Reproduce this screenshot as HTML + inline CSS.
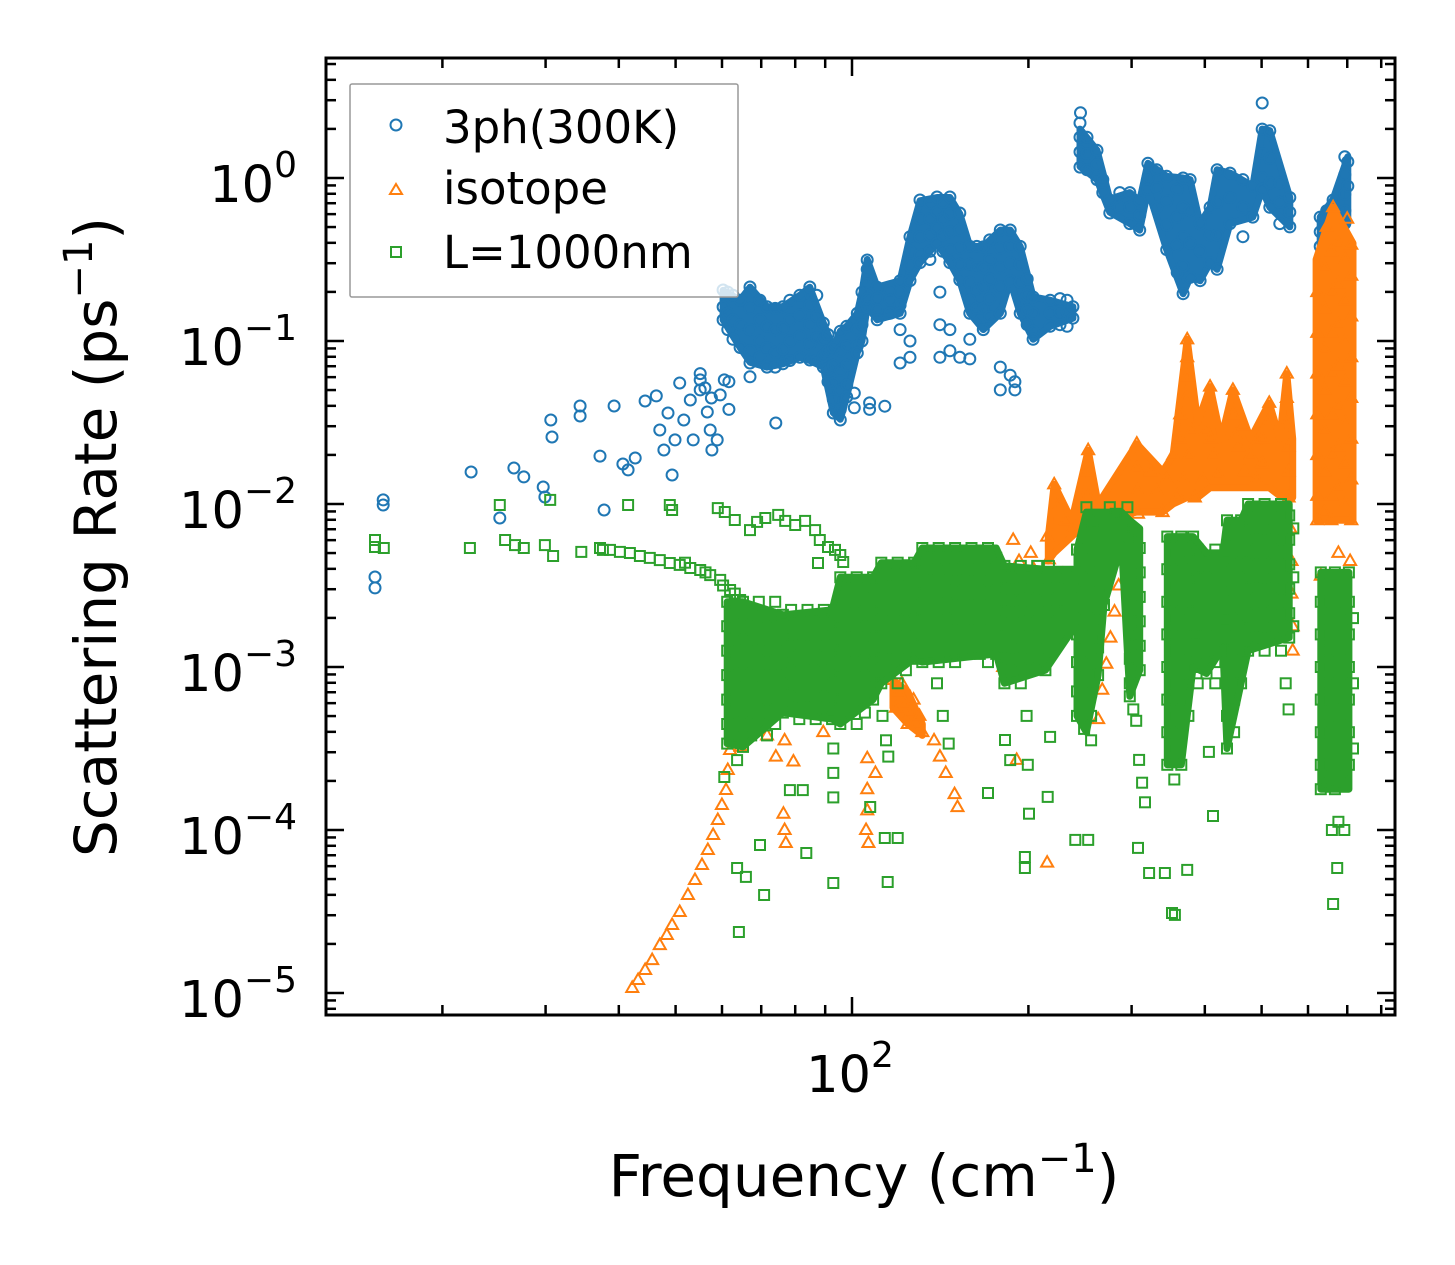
<!DOCTYPE html>
<html><head><meta charset="utf-8"><style>
html,body{margin:0;padding:0;background:#fff;}
svg{display:block;font-family:"DejaVu Sans","Liberation Sans",sans-serif;}
</style></head><body>
<svg id="chart" width="1455" height="1265" viewBox="0 0 1455 1265" xmlns="http://www.w3.org/2000/svg">
<rect x="0" y="0" width="1455" height="1265" fill="#fff"/>
<g id="marks"></g>
<g id="ticks"></g>
<rect x="326" y="58" width="1069" height="957" fill="none" stroke="#000" stroke-width="3"/>
<g id="ticklabels"></g>
<text x="864" y="1196" font-size="58" text-anchor="middle">Frequency (cm<tspan font-size="40" dy="-24">−1</tspan><tspan dy="24">)</tspan></text>
<text transform="translate(116,537) rotate(-90)" font-size="58" text-anchor="middle">Scattering Rate (ps<tspan font-size="40" dy="-24">−1</tspan><tspan dy="24">)</tspan></text>
<g>
<rect x="350" y="84" width="388" height="213" fill="#fff" fill-opacity="0.8" stroke="#999" stroke-width="1.5" rx="2"/>
<circle cx="396" cy="125" r="5.5" fill="none" stroke="#1f77b4" stroke-width="2"/>
<text x="443" y="143" font-size="45">3ph(300K)</text>
<polygon points="396,184 402,194 390,194" fill="none" stroke="#ff7f0e" stroke-width="2"/>
<text x="443" y="204" font-size="45">isotope</text>
<rect x="391" y="247" width="10" height="10" fill="none" stroke="#2ca02c" stroke-width="2"/>
<text x="443" y="268" font-size="45">L=1000nm</text>
</g>
</svg>
<script>
// data in log10 units: [log10(frequency cm^-1), log10(rate ps^-1)]
const yTickExps = ["0","−1","−2","−3","−4","−5"];
const yTickVals = [0,-1,-2,-3,-4,-5];
const xTickExps = ["2"];
const xTickVals = [2];

// dense-cloud envelopes: [log10 f, upper log10 rate, lower log10 rate]
const env3phA = [[1.780,-0.69,-0.87],[1.809,-0.75,-1.04],[1.826,-0.67,-1.13],[1.855,-0.79,-1.16],[1.882,-0.79,-1.14],[1.911,-0.72,-1.10],[1.928,-0.67,-1.12],[1.951,-0.89,-1.16],[1.968,-1.04,-1.44],[1.980,-0.94,-1.48],[1.991,-0.91,-1.34],[2.009,-0.83,-1.07],[2.017,-0.70,-1.0],[2.026,-0.50,-0.79],[2.043,-0.67,-0.87],[2.082,-0.63,-0.83],[2.099,-0.36,-0.63],[2.116,-0.14,-0.52],[2.145,-0.12,-0.40],[2.167,-0.12,-0.52],[2.184,-0.22,-0.63],[2.201,-0.42,-0.83],[2.224,-0.42,-0.93],[2.253,-0.32,-0.83],[2.270,-0.32,-0.63],[2.287,-0.42,-0.83],[2.309,-0.73,-0.99],[2.338,-0.75,-0.91],[2.377,-0.79,-0.86]];
const env3phB = [[2.389,0.30,0.07],[2.418,0.17,-0.01],[2.440,-0.13,-0.21],[2.474,-0.09,-0.28],[2.491,-0.14,-0.32],[2.505,0.09,-0.07],[2.537,0.01,-0.44],[2.565,0.0,-0.71],[2.577,-0.01,-0.61],[2.594,-0.28,-0.63],[2.611,-0.18,-0.52],[2.623,0.05,-0.56],[2.645,0.03,-0.28],[2.684,-0.05,-0.24],[2.700,0.30,-0.07],[2.713,0.29,-0.18],[2.747,-0.12,-0.30]];
const env3phC = [[2.799,-0.24,-0.42],[2.821,-0.13,-0.38],[2.846,0.13,-0.28]];
const envIsoA = [[2.335,-2.2,-2.35],[2.345,-1.88,-2.3],[2.375,-2.1,-2.2],[2.403,-1.67,-2.1],[2.42,-2.0,-2.1],[2.486,-1.63,-2.05],[2.53,-1.8,-2.05],[2.548,-1.7,-2.0],[2.572,-0.99,-1.96],[2.59,-1.5,-1.96],[2.611,-1.28,-1.9],[2.63,-1.6,-1.9],[2.65,-1.30,-1.9],[2.68,-1.6,-1.9],[2.712,-1.38,-1.9],[2.73,-1.6,-1.95],[2.742,-1.2,-1.96],[2.752,-1.6,-1.96]];
const envIsoB = [[2.792,-0.5,-2.1],[2.821,-0.18,-2.1],[2.855,-0.4,-2.1]];
const envIsoC = [[2.070,-3.08,-3.25],[2.095,-3.15,-3.35],[2.120,-3.35,-3.42]];
const envBndA = [[1.787,-2.60,-3.47],[1.814,-2.60,-3.49],[1.882,-2.68,-3.28],[1.966,-2.65,-3.32],[1.980,-2.45,-3.35],[2.036,-2.45,-3.20],[2.050,-2.36,-3.10],[2.106,-2.36,-2.95],[2.120,-2.27,-2.97],[2.246,-2.27,-2.92],[2.260,-2.38,-3.10],[2.330,-2.40,-3.02],[2.377,-2.40,-2.77]];
const envBndB = [[2.384,-2.28,-3.30],[2.400,-2.05,-3.40],[2.420,-2.05,-3.05],[2.430,-2.05,-2.62],[2.460,-2.05,-2.25],[2.474,-2.10,-3.18],[2.491,-2.15,-3.02]];
const envBndC = [[2.538,-2.20,-3.60],[2.562,-2.20,-3.60],[2.582,-2.20,-3.0],[2.605,-2.3,-3.04],[2.633,-2.3,-2.88],[2.640,-2.1,-3.50],[2.664,-2.1,-3.10],[2.676,-2.0,-2.90],[2.746,-2.0,-2.82]];
const envBndD = [[2.800,-2.42,-3.75],[2.848,-2.42,-3.75]];

const log3ph = [
[1.186,-2.515],[1.186,-2.448],[1.200,-1.975],[1.200,-2.006],[1.350,-1.804],[1.399,-2.086],[1.423,-1.779],[1.440,-1.834],[1.473,-1.896],[1.476,-1.957],[1.486,-1.485],[1.488,-1.589],[1.536,-1.399],[1.536,-1.460],[1.570,-1.706],[1.577,-2.037],[1.594,-1.399],[1.609,-1.755],[1.618,-1.791],[1.630,-1.718],[1.647,-1.368],[1.666,-1.337],[1.672,-1.546],[1.679,-1.669],[1.686,-1.442],[1.693,-1.822],[1.698,-1.607],[1.706,-1.258],[1.713,-1.485],[1.724,-1.362],[1.729,-1.607],[1.741,-1.239],[1.749,-1.288],[1.753,-1.436],[1.758,-1.546],[1.761,-1.669],[1.770,-1.607],[1.775,-1.331],[1.782,-1.239],
[1.780,-0.687],[1.780,-0.791],[1.780,-0.871],[1.788,-0.70],[1.788,-0.83],[1.788,-0.93],[1.797,-0.72],[1.797,-0.87],[1.797,-0.99],[1.809,-0.75],[1.809,-0.90],[1.809,-1.04],
[1.826,-0.669],[1.826,-0.80],[1.826,-0.93],[1.826,-1.06],[1.826,-1.135],[1.843,-0.75],[1.843,-0.87],[1.843,-1.0],[1.843,-1.10],[1.855,-0.79],[1.855,-0.91],[1.855,-1.04],[1.855,-1.16],
[1.869,-0.80],[1.869,-0.93],[1.869,-1.07],[1.869,-1.16],[1.882,-0.79],[1.882,-0.92],[1.882,-1.05],[1.882,-1.14],[1.894,-0.75],[1.894,-0.87],[1.894,-1.0],[1.894,-1.12],
[1.911,-0.72],[1.911,-0.84],[1.911,-0.97],[1.911,-1.10],[1.928,-0.669],[1.928,-0.78],[1.928,-0.90],[1.928,-1.02],[1.928,-1.117],[1.940,-0.72],[1.940,-0.85],[1.940,-0.98],[1.940,-1.12],
[1.951,-0.89],[1.951,-0.99],[1.951,-1.09],[1.951,-1.16],[1.959,-0.96],[1.959,-1.06],[1.959,-1.17],[1.959,-1.25],[1.968,-1.04],[1.968,-1.15],[1.968,-1.26],[1.968,-1.36],[1.968,-1.442],
[1.980,-0.94],[1.980,-1.06],[1.980,-1.18],[1.980,-1.30],[1.980,-1.42],[1.980,-1.485],[1.991,-0.91],[1.991,-1.03],[1.991,-1.15],[1.991,-1.27],[1.991,-1.344],
[2.009,-0.83],[2.009,-0.93],[2.009,-1.03],[2.009,-1.074],[2.017,-0.70],[2.017,-0.80],[2.017,-0.90],[2.017,-1.0],[2.026,-0.503],[2.026,-0.56],[2.026,-0.65],[2.026,-0.74],[2.026,-0.79],
[2.043,-0.67],[2.043,-0.74],[2.043,-0.81],[2.043,-0.87],[2.065,-0.69],[2.065,-0.75],[2.065,-0.83],[2.082,-0.63],[2.082,-0.70],[2.082,-0.78],[2.082,-0.83],
[2.099,-0.36],[2.099,-0.45],[2.099,-0.54],[2.099,-0.63],[2.116,-0.135],[2.116,-0.25],[2.116,-0.36],[2.116,-0.47],[2.116,-0.52],[2.133,-0.153],[2.133,-0.25],[2.133,-0.35],[2.133,-0.45],[2.133,-0.50],
[2.145,-0.117],[2.145,-0.21],[2.145,-0.31],[2.145,-0.40],[2.155,-0.15],[2.155,-0.25],[2.155,-0.35],[2.155,-0.45],[2.167,-0.117],[2.167,-0.22],[2.167,-0.33],[2.167,-0.44],[2.167,-0.52],
[2.184,-0.215],[2.184,-0.32],[2.184,-0.43],[2.184,-0.53],[2.184,-0.626],[2.201,-0.42],[2.201,-0.53],[2.201,-0.64],[2.201,-0.75],[2.201,-0.83],[2.213,-0.42],[2.213,-0.55],[2.213,-0.68],[2.213,-0.80],
[2.224,-0.423],[2.224,-0.55],[2.224,-0.67],[2.224,-0.80],[2.224,-0.93],[2.235,-0.38],[2.235,-0.50],[2.235,-0.62],[2.235,-0.74],[2.235,-0.85],[2.253,-0.319],[2.253,-0.43],[2.253,-0.55],[2.253,-0.67],[2.253,-0.83],
[2.270,-0.319],[2.270,-0.42],[2.270,-0.52],[2.270,-0.63],[2.287,-0.42],[2.287,-0.53],[2.287,-0.64],[2.287,-0.75],[2.287,-0.83],[2.299,-0.62],[2.299,-0.72],[2.299,-0.81],[2.299,-0.90],[2.309,-0.73],[2.309,-0.83],[2.309,-0.94],[2.309,-0.99],
[2.338,-0.75],[2.338,-0.83],[2.338,-0.91],[2.355,-0.74],[2.355,-0.82],[2.355,-0.90],[2.367,-0.75],[2.367,-0.82],[2.367,-0.91],[2.377,-0.79],[2.377,-0.86],
[2.082,-0.93],[2.082,-1.135],[2.099,-1.0],[2.099,-1.10],[2.150,-0.70],[2.150,-0.90],[2.150,-1.10],[2.167,-0.93],[2.167,-1.06],[2.184,-1.10],[2.201,-0.99],[2.201,-1.11],[2.253,-1.16],[2.253,-1.30],[2.270,-1.21],[2.278,-1.25],[2.278,-1.30],[2.004,-1.32],[2.004,-1.41],[2.030,-1.42],[2.030,-1.38],[2.056,-1.40],[1.741,-1.20],[1.741,-1.30],[1.760,-1.35],[1.790,-1.25],[1.790,-1.42],[1.870,-1.503],[1.826,-1.22],
[2.389,0.337],[2.389,0.25],[2.389,0.16],[2.389,0.067],[2.390,0.40],[2.401,0.25],[2.401,0.15],[2.401,0.05],[2.418,0.17],[2.418,0.08],[2.418,-0.01],[2.428,-0.01],[2.428,-0.09],[2.440,-0.135],[2.440,-0.215],
[2.457,-0.09],[2.457,-0.18],[2.474,-0.09],[2.474,-0.18],[2.474,-0.28],[2.491,-0.14],[2.491,-0.23],[2.491,-0.32],[2.505,0.09],[2.505,0.0],[2.505,-0.07],[2.520,0.05],[2.520,-0.06],[2.520,-0.18],
[2.537,0.01],[2.537,-0.14],[2.537,-0.29],[2.537,-0.44],[2.555,-0.07],[2.555,-0.24],[2.555,-0.41],[2.555,-0.58],[2.565,0.0],[2.565,-0.18],[2.565,-0.36],[2.565,-0.54],[2.565,-0.71],[2.577,-0.01],[2.577,-0.20],[2.577,-0.40],[2.577,-0.61],
[2.594,-0.28],[2.594,-0.45],[2.594,-0.63],[2.611,-0.18],[2.611,-0.35],[2.611,-0.52],[2.623,0.05],[2.623,-0.15],[2.623,-0.35],[2.623,-0.56],[2.645,0.03],[2.645,-0.12],[2.645,-0.28],[2.667,-0.01],[2.667,-0.18],[2.667,-0.36],[2.684,-0.05],[2.684,-0.24],
[2.700,0.46],[2.700,0.30],[2.700,0.15],[2.700,0.0],[2.700,-0.07],[2.713,0.29],[2.713,0.12],[2.713,-0.03],[2.713,-0.18],[2.730,-0.03],[2.730,-0.15],[2.730,-0.28],[2.747,-0.12],[2.747,-0.21],[2.747,-0.30],
[2.799,-0.24],[2.799,-0.33],[2.799,-0.42],[2.810,-0.20],[2.810,-0.36],[2.821,-0.135],[2.821,-0.25],[2.821,-0.38],[2.841,0.13],[2.841,0.02],[2.841,-0.10],[2.841,-0.20],[2.841,-0.28],[2.846,0.10],[2.846,-0.05]
];

const logIsotope = [
[1.625,-4.969],[1.635,-4.920],[1.647,-4.859],[1.659,-4.798],[1.672,-4.706],[1.684,-4.644],[1.693,-4.583],[1.706,-4.503],[1.720,-4.399],[1.732,-4.307],[1.744,-4.215],[1.754,-4.123],[1.763,-4.031],[1.771,-3.939],[1.778,-3.847],[1.785,-3.755],[1.788,-3.632],[1.792,-3.509],
[1.795,-3.2],[1.800,-3.35],[1.810,-3.49],[1.820,-3.3],[1.855,-3.42],[1.870,-3.55],[1.885,-3.45],[1.900,-3.58],[1.883,-3.90],[1.885,-4.0],[1.887,-4.08],[1.951,-3.25],[1.951,-3.40],
[2.026,-3.56],[2.040,-3.65],[2.026,-3.75],[2.026,-3.88],[2.024,-4.0],[2.028,-4.08],
[2.070,-3.08],[2.080,-3.15],[2.090,-3.22],[2.100,-3.28],[2.110,-3.34],[2.120,-3.40],[2.075,-3.25],[2.095,-3.35],[2.085,-3.10],[2.105,-3.20],[2.115,-3.30],
[2.140,-3.45],[2.150,-3.55],[2.160,-3.65],[2.175,-3.78],[2.180,-3.86],[2.240,-2.78],[2.250,-2.90],[2.258,-3.0],
[2.275,-2.22],[2.285,-2.35],[2.295,-2.47],[2.305,-2.30],[2.310,-2.40],[2.333,-2.20],[2.336,-2.34],[2.281,-3.57],[2.333,-4.20],
[1.85,-3.1],[1.95,-3.1],[2.0,-3.0],[2.2,-2.7],[2.22,-2.85],[1.90,-3.2],
[2.345,-1.88],[2.355,-2.00],[2.365,-2.10],[2.375,-2.16],[2.360,-2.43],
[2.403,-1.67],[2.403,-1.80],[2.403,-1.95],[2.405,-2.10],[2.405,-2.30],
[2.462,-2.34],[2.455,-2.50],[2.448,-2.66],[2.441,-2.82],[2.434,-2.98],[2.427,-3.14],[2.420,-3.32],
[2.486,-1.63],[2.486,-1.78],[2.487,-1.92],[2.488,-2.06],[2.509,-1.80],[2.520,-1.92],[2.530,-2.05],[2.537,-1.85],
[2.572,-0.99],[2.572,-1.10],[2.572,-1.22],[2.570,-1.35],[2.560,-1.45],[2.580,-1.55],[2.548,-1.70],[2.565,-1.85],[2.585,-1.96],[2.555,-1.95],[2.575,-1.70],[2.560,-1.60],
[2.611,-1.28],[2.611,-1.40],[2.605,-1.55],[2.618,-1.70],[2.598,-1.85],[2.625,-1.82],[2.612,-1.60],
[2.650,-1.30],[2.650,-1.45],[2.660,-1.65],[2.670,-1.80],[2.680,-1.70],[2.690,-1.62],[2.700,-1.75],[2.710,-1.50],[2.712,-1.38],[2.690,-1.85],[2.655,-1.58],[2.668,-1.52],[2.700,-1.60],
[2.742,-1.20],[2.742,-1.35],[2.742,-1.50],[2.745,-1.65],[2.745,-1.80],[2.745,-1.96],[2.748,-2.15],[2.750,-2.35],[2.750,-2.55],[2.752,-2.75],[2.752,-2.90],
[2.821,-0.18],[2.810,-0.30],[2.845,-0.25],[2.852,-0.41],[2.842,-0.50],
[2.794,-0.70],[2.794,-0.95],[2.794,-1.20],[2.794,-1.45],[2.794,-1.70],[2.794,-1.95],[2.794,-2.10],
[2.806,-0.55],[2.806,-0.80],[2.806,-1.05],[2.806,-1.30],[2.806,-1.55],[2.806,-1.80],[2.806,-2.05],
[2.818,-0.45],[2.818,-0.70],[2.818,-0.95],[2.818,-1.20],[2.818,-1.45],[2.818,-1.70],[2.818,-1.95],[2.818,-2.10],
[2.830,-0.40],[2.830,-0.65],[2.830,-0.90],[2.830,-1.15],[2.830,-1.40],[2.830,-1.65],[2.830,-1.90],
[2.842,-0.75],[2.842,-1.00],[2.842,-1.25],[2.842,-1.50],[2.842,-1.75],[2.842,-2.00],
[2.852,-0.60],[2.852,-0.85],[2.852,-1.10],[2.852,-1.35],[2.852,-1.60],[2.852,-1.85],[2.852,-2.10],
[2.80,-2.44],[2.83,-2.30],[2.85,-2.35]
];

const logBoundary = [
[1.186,-2.221],[1.186,-2.264],[1.201,-2.270],[1.348,-2.270],[1.399,-2.006],[1.408,-2.221],[1.425,-2.252],[1.440,-2.270],[1.476,-2.252],[1.485,-1.975],[1.490,-2.319],[1.538,-2.294],[1.575,-2.282],[1.618,-2.006],[1.689,-2.006],[1.693,-2.037],
[1.570,-2.270],[1.587,-2.282],[1.604,-2.294],[1.621,-2.301],[1.638,-2.319],[1.655,-2.331],[1.672,-2.344],[1.689,-2.362],[1.706,-2.374],[1.724,-2.393],[1.741,-2.405],[1.758,-2.436],[1.775,-2.466],[1.792,-2.528],[1.809,-2.589],[1.715,-2.36],[1.750,-2.42],[1.800,-2.55],[1.780,-2.50],
[1.771,-2.025],[1.783,-2.049],[1.800,-2.098],[1.826,-2.160],[1.838,-2.110],[1.852,-2.086],[1.874,-2.067],[1.886,-2.104],[1.903,-2.129],[1.920,-2.104],[1.937,-2.160],[1.945,-2.221],[1.959,-2.264],[1.971,-2.282],[1.980,-2.313],[1.985,-2.356],[1.942,-2.362],
[1.787,-2.60],[1.787,-2.75],[1.787,-2.90],[1.787,-3.05],[1.787,-3.20],[1.787,-3.35],[1.787,-3.47],
[1.800,-2.68],[1.800,-2.83],[1.800,-2.98],[1.800,-3.12],[1.800,-3.28],[1.800,-3.42],
[1.814,-2.60],[1.814,-2.75],[1.814,-2.90],[1.814,-3.05],[1.814,-3.20],[1.814,-3.35],[1.814,-3.49],
[1.828,-2.68],[1.828,-2.83],[1.828,-2.98],[1.828,-3.12],[1.828,-3.28],[1.828,-3.42],
[1.841,-2.60],[1.841,-2.75],[1.841,-2.90],[1.841,-3.05],[1.841,-3.20],[1.841,-3.35],
[1.855,-2.68],[1.855,-2.83],[1.855,-2.98],[1.855,-3.12],[1.855,-3.28],[1.855,-3.42],
[1.869,-2.60],[1.869,-2.75],[1.869,-2.90],[1.869,-3.05],[1.869,-3.20],[1.869,-3.35],
[1.882,-2.68],[1.882,-2.83],[1.882,-2.98],[1.882,-3.12],[1.882,-3.28],
[1.896,-2.65],[1.896,-2.80],[1.896,-2.95],[1.896,-3.10],[1.896,-3.25],
[1.910,-2.72],[1.910,-2.87],[1.910,-3.02],[1.910,-3.18],[1.910,-3.32],
[1.924,-2.65],[1.924,-2.80],[1.924,-2.95],[1.924,-3.10],[1.924,-3.25],
[1.938,-2.72],[1.938,-2.87],[1.938,-3.02],[1.938,-3.18],[1.938,-3.32],
[1.952,-2.65],[1.952,-2.80],[1.952,-2.95],[1.952,-3.10],[1.952,-3.25],
[1.966,-2.72],[1.966,-2.87],[1.966,-3.02],[1.966,-3.18],[1.966,-3.32],[1.968,-3.5],[1.968,-3.65],[1.968,-3.80],
[1.980,-2.45],[1.980,-2.60],[1.980,-2.75],[1.980,-2.90],[1.980,-3.05],[1.980,-3.20],[1.980,-3.35],
[1.994,-2.52],[1.994,-2.67],[1.994,-2.82],[1.994,-2.97],[1.994,-3.12],[1.994,-3.28],
[2.008,-2.45],[2.008,-2.60],[2.008,-2.75],[2.008,-2.90],[2.008,-3.05],[2.008,-3.20],[2.008,-3.35],
[2.022,-2.52],[2.022,-2.67],[2.022,-2.82],[2.022,-2.97],[2.022,-3.12],[2.022,-3.28],
[2.036,-2.45],[2.036,-2.60],[2.036,-2.75],[2.036,-2.90],[2.036,-3.05],[2.036,-3.20],
[2.050,-2.36],[2.050,-2.50],[2.050,-2.65],[2.050,-2.80],[2.050,-2.95],[2.050,-3.10],[2.052,-3.3],[2.058,-3.45],[2.062,-3.55],
[2.064,-2.43],[2.064,-2.58],[2.064,-2.72],[2.064,-2.88],[2.064,-3.02],
[2.078,-2.36],[2.078,-2.50],[2.078,-2.65],[2.078,-2.80],[2.078,-2.95],[2.078,-3.10],
[2.092,-2.43],[2.092,-2.58],[2.092,-2.72],[2.092,-2.88],[2.092,-3.02],
[2.106,-2.36],[2.106,-2.50],[2.106,-2.65],[2.106,-2.80],[2.106,-2.95],
[2.120,-2.27],[2.120,-2.40],[2.120,-2.55],[2.120,-2.70],[2.120,-2.85],[2.120,-2.97],
[2.134,-2.33],[2.134,-2.47],[2.134,-2.62],[2.134,-2.77],[2.134,-2.92],
[2.148,-2.27],[2.148,-2.40],[2.148,-2.55],[2.148,-2.70],[2.148,-2.85],[2.148,-2.97],[2.145,-3.1],[2.155,-3.3],[2.165,-3.47],
[2.162,-2.33],[2.162,-2.47],[2.162,-2.62],[2.162,-2.77],[2.162,-2.92],
[2.176,-2.27],[2.176,-2.40],[2.176,-2.55],[2.176,-2.70],[2.176,-2.85],[2.176,-2.97],
[2.190,-2.33],[2.190,-2.47],[2.190,-2.62],[2.190,-2.77],[2.190,-2.92],
[2.204,-2.27],[2.204,-2.40],[2.204,-2.55],[2.204,-2.70],[2.204,-2.85],
[2.218,-2.33],[2.218,-2.47],[2.218,-2.62],[2.218,-2.77],[2.218,-2.92],
[2.232,-2.27],[2.232,-2.40],[2.232,-2.55],[2.232,-2.70],[2.232,-2.85],[2.232,-2.97],
[2.246,-2.33],[2.246,-2.47],[2.246,-2.62],[2.246,-2.77],[2.246,-2.92],
[2.260,-2.38],[2.260,-2.52],[2.260,-2.66],[2.260,-2.80],[2.260,-2.95],[2.260,-3.10],
[2.274,-2.45],[2.274,-2.59],[2.274,-2.73],[2.274,-2.88],[2.274,-3.02],
[2.288,-2.38],[2.288,-2.52],[2.288,-2.66],[2.288,-2.80],[2.288,-2.95],[2.288,-3.10],
[2.302,-2.45],[2.302,-2.59],[2.302,-2.73],[2.302,-2.88],[2.298,-3.3],[2.300,-3.6],[2.302,-3.9],
[2.316,-2.38],[2.316,-2.52],[2.316,-2.66],[2.316,-2.80],[2.316,-2.95],
[2.330,-2.45],[2.330,-2.59],[2.330,-2.73],[2.330,-2.88],[2.330,-3.02],
[2.336,-2.38],[2.350,-2.52],[2.350,-2.66],[2.364,-2.45],[2.364,-2.60],[2.377,-2.52],[2.377,-2.77],
[2.384,-2.28],[2.384,-2.45],[2.384,-2.62],[2.384,-2.80],[2.384,-2.97],[2.384,-3.15],[2.384,-3.30],
[2.396,-2.36],[2.396,-2.53],[2.396,-2.70],[2.396,-2.88],[2.396,-3.05],[2.396,-3.22],[2.396,-3.38],
[2.408,-2.28],[2.408,-2.45],[2.408,-2.62],[2.408,-2.80],[2.408,-2.97],[2.408,-3.15],[2.408,-3.30],[2.408,-3.45],
[2.420,-2.36],[2.420,-2.53],[2.420,-2.70],[2.420,-2.88],[2.420,-3.05],
[2.430,-2.28],[2.430,-2.45],[2.430,-2.62],
[2.40,-2.02],[2.42,-2.10],[2.44,-2.02],[2.46,-2.10],[2.48,-2.16],[2.41,-2.16],[2.45,-2.06],[2.47,-2.02],
[2.474,-2.20],[2.474,-2.35],[2.474,-2.50],[2.474,-2.65],[2.474,-2.80],[2.474,-2.95],[2.474,-3.10],[2.474,-3.18],
[2.491,-2.27],[2.491,-2.42],[2.491,-2.57],[2.491,-2.72],[2.491,-2.87],[2.491,-3.02],
[2.480,-3.26],[2.485,-3.33],[2.490,-3.57],[2.495,-3.71],[2.500,-3.83],
[2.538,-2.20],[2.538,-2.40],[2.538,-2.60],[2.538,-2.80],[2.538,-3.00],[2.538,-3.20],[2.538,-3.40],[2.538,-3.60],
[2.550,-2.30],[2.550,-2.50],[2.550,-2.70],[2.550,-2.90],[2.550,-3.10],[2.550,-3.30],[2.550,-3.50],[2.550,-3.69],
[2.562,-2.20],[2.562,-2.40],[2.562,-2.60],[2.562,-2.80],[2.562,-3.00],[2.562,-3.20],[2.562,-3.40],[2.562,-3.60],
[2.574,-2.30],[2.574,-2.50],[2.574,-2.70],[2.574,-2.90],[2.574,-3.10],[2.574,-3.30],
[2.582,-2.20],[2.582,-2.40],[2.582,-2.60],[2.582,-2.80],[2.582,-3.00],
[2.590,-2.28],[2.590,-2.45],[2.590,-2.62],[2.590,-2.80],[2.590,-2.97],[2.590,-3.10],
[2.605,-2.36],[2.605,-2.53],[2.605,-2.70],[2.605,-2.88],[2.605,-3.04],
[2.620,-2.28],[2.620,-2.45],[2.620,-2.62],[2.620,-2.80],[2.620,-2.97],[2.620,-3.10],
[2.633,-2.36],[2.633,-2.53],[2.633,-2.70],[2.633,-2.88],
[2.640,-2.10],[2.640,-2.30],[2.640,-2.50],[2.640,-2.70],[2.640,-2.90],[2.640,-3.10],[2.640,-3.30],[2.640,-3.50],
[2.652,-2.20],[2.652,-2.40],[2.652,-2.60],[2.652,-2.80],[2.652,-3.00],[2.652,-3.20],[2.652,-3.40],
[2.664,-2.10],[2.664,-2.30],[2.664,-2.50],[2.664,-2.70],[2.664,-2.90],[2.664,-3.10],
[2.676,-2.00],[2.676,-2.15],[2.676,-2.30],[2.676,-2.45],[2.676,-2.60],[2.676,-2.75],[2.676,-2.90],
[2.690,-2.07],[2.690,-2.22],[2.690,-2.37],[2.690,-2.52],[2.690,-2.67],[2.690,-2.82],
[2.704,-2.00],[2.704,-2.15],[2.704,-2.30],[2.704,-2.45],[2.704,-2.60],[2.704,-2.75],[2.704,-2.90],
[2.718,-2.07],[2.718,-2.22],[2.718,-2.37],[2.718,-2.52],[2.718,-2.67],[2.718,-2.82],
[2.732,-2.00],[2.732,-2.15],[2.732,-2.30],[2.732,-2.45],[2.732,-2.60],[2.732,-2.75],[2.732,-2.90],
[2.746,-2.07],[2.746,-2.22],[2.746,-2.37],[2.746,-2.52],[2.746,-2.67],[2.746,-2.82],[2.740,-3.1],[2.745,-3.26],
[2.753,-2.15],[2.753,-2.45],[2.753,-2.75],
[2.800,-2.42],[2.800,-2.60],[2.800,-2.80],[2.800,-3.00],[2.800,-3.20],[2.800,-3.40],[2.800,-3.60],[2.800,-3.75],
[2.812,-2.50],[2.812,-2.70],[2.812,-2.90],[2.812,-3.10],[2.812,-3.30],[2.812,-3.50],[2.812,-3.70],
[2.824,-2.42],[2.824,-2.60],[2.824,-2.80],[2.824,-3.00],[2.824,-3.20],[2.824,-3.40],[2.824,-3.60],[2.824,-3.75],
[2.836,-2.50],[2.836,-2.70],[2.836,-2.90],[2.836,-3.10],[2.836,-3.30],[2.836,-3.50],[2.836,-3.70],
[2.848,-2.42],[2.848,-2.60],[2.848,-2.80],[2.848,-3.00],[2.848,-3.20],[2.848,-3.40],[2.848,-3.60],
[2.855,-2.70],[2.855,-3.10],[2.855,-3.50],[2.830,-3.95],[2.840,-4.0],
[1.804,-4.233],[1.819,-4.288],[1.850,-4.399],[1.807,-4.626],[1.782,-3.675],[1.804,-3.571],[1.843,-4.092],[1.894,-3.755],[1.922,-4.141],[1.916,-3.755],[1.968,-4.325],[2.056,-4.049],[2.078,-4.049],[2.061,-4.319],[2.031,-3.859],[2.232,-3.773],[2.261,-3.448],[2.270,-3.571],[2.295,-4.166],[2.295,-4.233],[2.334,-3.797],[2.381,-4.061],[2.403,-4.061],[2.338,-3.429],[2.488,-4.110],[2.507,-4.264],[2.534,-4.264],[2.546,-4.509],[2.551,-4.521],[2.572,-4.245],[2.616,-3.914],[2.609,-3.521],[2.821,-4.454],[2.819,-4.000],[2.828,-4.233]
];

// axis functions (log-log)
const xLogMin = 1.1024, xLogMax = 2.9266, yLogMin = -5.135, yLogMax = 0.736;
const plotL = 326, plotR = 1395, plotT = 58, plotB = 1015;
function xScale(v){ return plotL + (v - xLogMin) / (xLogMax - xLogMin) * (plotR - plotL); }
function yScale(v){ return plotB - (v - yLogMin) / (yLogMax - yLogMin) * (plotB - plotT); }

const NS = "http://www.w3.org/2000/svg";
const marks = document.getElementById('marks');
const ticks = document.getElementById('ticks');
const labels = document.getElementById('ticklabels');

function mk(tag, attrs, parent){
  const e = document.createElementNS(NS, tag);
  for (const k in attrs) e.setAttribute(k, attrs[k]);
  parent.appendChild(e);
  return e;
}
function envelope(env, color, name){
  let d = '';
  env.forEach((p,i) => { d += (i ? 'L' : 'M') + xScale(p[0]).toFixed(1) + ',' + yScale(p[1]).toFixed(1); });
  for (let i = env.length - 1; i >= 0; i--) d += 'L' + xScale(env[i][0]).toFixed(1) + ',' + yScale(env[i][2]).toFixed(1);
  d += 'Z';
  const p = mk('path', {d, fill: color, stroke: color, 'stroke-width': 7, 'stroke-linejoin': 'round'}, marks);
  
  
}

envelope(env3phA, '#1f77b4', 'cloud-3ph-low');
envelope(env3phB, '#1f77b4', 'cloud-3ph-high');
envelope(env3phC, '#1f77b4', 'cloud-3ph-top');
const g1 = mk('g', {fill:'none', stroke:'#1f77b4', 'stroke-width':'2'}, marks);


log3ph.forEach(p => {
  const c = mk('circle', {cx: xScale(p[0]).toFixed(1), cy: yScale(p[1]).toFixed(1), r: 5.5}, g1);
  
  
});
envelope(envIsoA, '#ff7f0e', 'cloud-isotope-mid');
envelope(envIsoB, '#ff7f0e', 'cloud-isotope-high');
envelope(envIsoC, '#ff7f0e', 'cloud-isotope-low');
const g2 = mk('g', {fill:'none', stroke:'#ff7f0e', 'stroke-width':'2'}, marks);


logIsotope.forEach(p => {
  const x = xScale(p[0]), y = yScale(p[1]);
  const t = mk('polygon', {points: `${x},${y-6.5} ${x+6},${y+4} ${x-6},${y+4}`}, g2);
  
  
});
envelope(envBndA, '#2ca02c', 'cloud-boundary-a');
envelope(envBndB, '#2ca02c', 'cloud-boundary-b');
envelope(envBndC, '#2ca02c', 'cloud-boundary-c');
envelope(envBndD, '#2ca02c', 'cloud-boundary-d');
const g3 = mk('g', {fill:'none', stroke:'#2ca02c', 'stroke-width':'2'}, marks);


logBoundary.forEach(p => {
  const x = xScale(p[0]), y = yScale(p[1]);
  const s = mk('rect', {x: (x-5).toFixed(1), y: (y-5).toFixed(1), width: 10, height: 10}, g3);
  
  
});

// ticks
function tick(x1,y1,x2,y2){
  const l = mk('line', {x1,y1,x2,y2, stroke:'#000', 'stroke-width':'2.5'}, ticks);
  
  
}
for (let d = -6; d <= 0; d++){
  for (let m = 1; m <= 9; m++){
    const v = d + Math.log10(m);
    if (v < yLogMin || v > yLogMax) continue;
    const y = yScale(v), len = m === 1 ? 18 : 10;
    tick(plotL, y, plotL+len, y); tick(plotR, y, plotR-len, y);
  }
}
for (let d = 1; d <= 2; d++){
  for (let m = 1; m <= 9; m++){
    const v = d + Math.log10(m);
    if (v < xLogMin || v > xLogMax) continue;
    const x = xScale(v), len = m === 1 ? 18 : 10;
    tick(x, plotB, x, plotB-len); tick(x, plotT, x, plotT+len);
  }
}
// tick labels
yTickVals.forEach((v,i) => {
  const t = mk('text', {x: 297, y: yScale(v)+24, 'font-size': 51, 'text-anchor':'end'}, labels);
  
  
  t.appendChild(document.createTextNode('10'));
  const s = mk('tspan', {'font-size': 36, dy: -25}, t);
  s.textContent = yTickExps[i];
});
xTickVals.forEach((v,i) => {
  const t = mk('text', {x: xScale(v)-2, y: 1092, 'font-size': 51, 'text-anchor':'middle'}, labels);
  
  
  t.appendChild(document.createTextNode('10'));
  const s = mk('tspan', {'font-size': 36, dy: -25}, t);
  s.textContent = xTickExps[i];
});
</script>
</body></html>
